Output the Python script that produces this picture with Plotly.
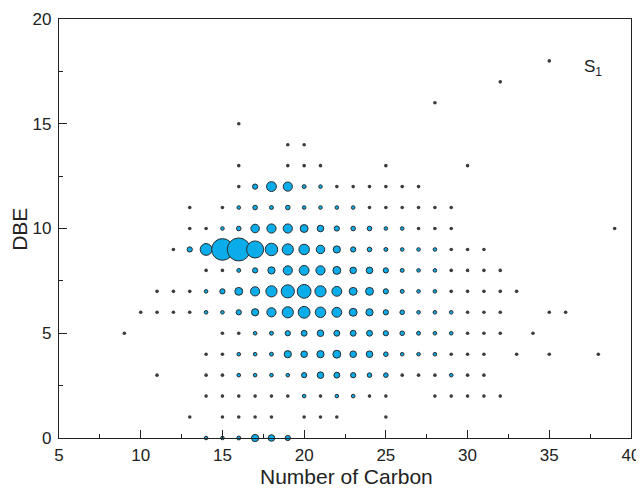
import plotly.graph_objects as go

T = 0.3  # trace-level abundance (tiny dots)

# (DBE, carbon number, relative abundance) read row by row
dbe = []
carbon = []
abundance = []

rows = {
    18: [(35, T)],
    17: [(32, T)],
    16: [(28, T)],
    15: [(16, T)],
    14: [(19, T), (20, T)],
    13: [(16, T), (19, T), (20, T), (21, T), (25, T), (30, T)],
    12: [(16, T), (17, 5.2), (18, 18.4), (19, 16), (20, 2.9), (21, 1.3), (22, T), (23, T),
         (24, T), (25, T), (26, T), (27, T)],
    11: [(13, T), (15, T), (16, 1.3), (17, 4.0), (18, 2.9), (19, 4.0), (20, 2.0), (21, 2.0),
         (22, 0.7), (23, 0.7), (24, T), (25, T), (26, T), (27, T), (28, T), (29, T)],
    10: [(13, T), (14, T), (15, 1.3), (16, 4.0), (17, 13.8), (18, 16), (19, 16), (20, 11.8),
         (21, 8.2), (22, 5.2), (23, 4.0), (24, 4.0), (25, 2.0), (26, 0.7), (27, T), (28, T),
         (29, T), (39, T)],
    9: [(12, T), (13, 5.2), (14, 26.4), (15, 88.9), (16, 100), (17, 55.2), (18, 29.5),
        (19, 23.6), (20, 20.9), (21, 13.8), (22, 9.9), (23, 5.2), (24, 4.0), (25, 2.9),
        (26, 1.3), (27, 0.7), (28, 0.7), (29, T), (30, T), (31, T)],
    8: [(14, T), (15, T), (16, 2.9), (17, 5.2), (18, 9.9), (19, 16), (20, 18.4), (21, 16),
        (22, 11.8), (23, 8.2), (24, 8.2), (25, 5.2), (26, 2.9), (27, 1.3), (28, 0.7),
        (29, T), (30, T), (31, T), (32, T)],
    7: [(11, T), (12, T), (13, T), (14, 1.3), (15, 5.2), (16, 11.8), (17, 16), (18, 23.6),
        (19, 32.7), (20, 36), (21, 23.6), (22, 18.4), (23, 11.8), (24, 11.8), (25, 5.2),
        (26, 2.9), (27, 1.3), (28, 1.3), (29, T), (30, T), (31, T), (32, T), (33, T)],
    6: [(10, T), (11, T), (12, T), (13, T), (14, 0.7), (15, 2.0), (16, 5.2), (17, 9.9),
        (18, 16), (19, 23.6), (20, 26.4), (21, 20.9), (22, 18.4), (23, 11.8), (24, 9.9),
        (25, 5.2), (26, 4.0), (27, 1.3), (28, 0.7), (29, 0.7), (30, T), (31, T), (32, T),
        (35, T), (36, T)],
    5: [(9, T), (15, T), (16, T), (17, 0.7), (18, 2.9), (19, 5.2), (20, 6.6), (21, 8.2),
        (22, 6.6), (23, 6.6), (24, 6.6), (25, 5.2), (26, 4.0), (27, 2.9), (28, 0.7),
        (29, 0.7), (30, T), (31, T), (32, T), (34, T)],
    4: [(14, T), (15, T), (16, 0.5), (17, 0.5), (18, 2.9), (19, 9.9), (20, 8.2), (21, 9.9),
        (22, 11.8), (23, 8.2), (24, 8.2), (25, 4.0), (26, 2.0), (27, 0.7), (28, 0.7),
        (29, T), (30, T), (31, T), (33, T), (35, T), (38, T)],
    3: [(11, T), (14, T), (15, T), (16, 0.7), (17, 0.5), (18, 1.3), (19, 1.3), (20, 5.2),
        (21, 8.2), (22, 6.6), (23, 5.2), (24, 4.0), (25, 4.0), (26, T), (27, T), (28, T),
        (29, 0.7), (30, T), (31, T)],
    2: [(14, T), (15, T), (16, T), (17, T), (18, T), (19, T), (20, 2.0), (21, T), (22, 0.5),
        (23, 0.5), (24, T), (25, T), (28, T), (29, T), (30, T), (31, T), (32, T)],
    1: [(13, T), (15, T), (16, T), (17, T), (18, T), (20, T), (21, T), (22, T), (25, T)],
    0: [(14, 0.7), (15, 2.0), (16, 2.9), (17, 9.9), (18, 8.2), (19, 5.2)],
}
for d, pts in rows.items():
    for c, a in pts:
        dbe.append(d)
        carbon.append(c)
        abundance.append(a)

x_ticks = [5, 10, 15, 20, 25, 30, 35, 40]
y_ticks = [0, 5, 10, 15, 20]

FILL = "#0AADEA"
EDGE = "#2a2a2a"
fill_colors = ["#3c3c3c" if a <= T else FILL for a in abundance]
edge_widths = [0 if a <= T else 1 for a in abundance]

max_size = 23
fig = go.Figure()
fig.add_trace(go.Scatter(
    x=carbon, y=dbe, mode="markers",
    marker=dict(
        size=abundance, sizemode="area",
        sizeref=2 * max(abundance) / max_size ** 2, sizemin=1.8,
        color=fill_colors, opacity=1,
        line=dict(color=EDGE, width=edge_widths),
    ),
    cliponaxis=False, hoverinfo="x+y",
))

font_family = "Arial, Liberation Sans, sans-serif"
axis_common = dict(
    showgrid=False, zeroline=False, showline=True, linecolor="#222", linewidth=1.3,
    mirror=True, ticks="inside", ticklen=8, tickwidth=1, tickcolor="#222",
    tickfont=dict(family=font_family, size=17, color="#222"), automargin=False,
)
fig.update_xaxes(
    range=[5, 40], tickvals=x_ticks, ticklabelstandoff=1,
    minor=dict(ticks="inside", dtick=2.5, tick0=5, ticklen=4, tickcolor="#222", tickwidth=1),
    **axis_common,
)
fig.update_yaxes(
    range=[0, 20], tickvals=y_ticks, ticklabelstandoff=3,
    minor=dict(ticks="inside", dtick=2.5, tick0=0, ticklen=4, tickcolor="#222", tickwidth=1),
    **axis_common,
)
title_font = dict(family=font_family, size=21, color="#222")
fig.add_annotation(x=0.503, y=-0.093, xref="paper", yref="paper", text="Number of Carbon",
                   showarrow=False, font=title_font, xanchor="center", yanchor="middle")
fig.add_annotation(x=-0.068, y=0.497, xref="paper", yref="paper", text="DBE",
                   showarrow=False, font=title_font, textangle=-90,
                   xanchor="center", yanchor="middle")
fig.add_annotation(x=0.914, y=0.884, xref="paper", yref="paper", text="S<sub>1</sub>",
                   showarrow=False, font=dict(family=font_family, size=17, color="#222"),
                   xanchor="left", yanchor="middle")
# the page body adds an 8px offset, so the figure is sized to fit within the window
fig.update_layout(
    width=636, height=491, plot_bgcolor="white", paper_bgcolor="white",
    margin=dict(l=51, r=13, t=11, b=61), showlegend=False,
)
fig.write_html("out.html")
